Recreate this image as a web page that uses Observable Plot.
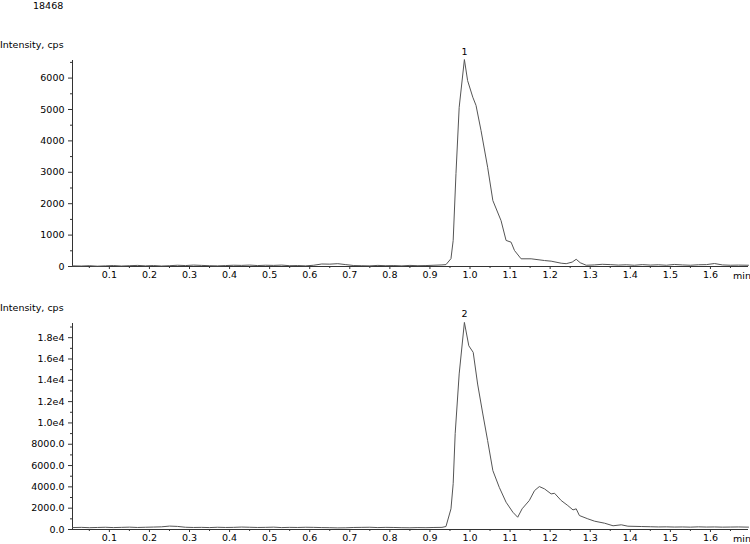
<!DOCTYPE html>
<html>
<head>
<meta charset="utf-8">
<script src="https://cdn.jsdelivr.net/npm/d3@7"></script>
<script src="https://cdn.jsdelivr.net/npm/@observablehq/plot@0.6"></script>
<style>
  html, body { margin: 0; padding: 0; background: #fff; }
  #wrap { position: relative; width: 750px; height: 544px; overflow: hidden; font-family: "DejaVu Sans", sans-serif; font-size: 9.5px; color: #000; }
  .txt { position: absolute; white-space: nowrap; line-height: 12px; }
  .panel { position: absolute; left: 0; }
</style>
</head>
<body>
<div id="wrap">
  <div class="txt" id="maxText" style="left:33px; top:0px;"></div>
  <div class="txt" id="ylab1" style="left:0px; top:39px;"></div>
  <div class="txt" id="ylab2" style="left:0px; top:302px;"></div>
  <div class="txt" id="unit1" style="left:733px; top:270px;"></div>
  <div class="txt" id="unit2" style="left:733px; top:533px;"></div>
  <div class="panel" id="p1" style="top:0px;"></div>
  <div class="panel" id="p2" style="top:263px;"></div>
</div>
<script>
// ---- Data ----
const headerValue = "18468";
const yAxisTitle = "Intensity, cps";
const xUnit = "min";
const peakNames = ["1", "2"];

// Trace 1 (top panel): retention time (min) and intensity (cps)
const time1 = [0.008, 0.03, 0.05, 0.07, 0.09, 0.11, 0.13, 0.15, 0.17, 0.19, 0.21, 0.23, 0.25, 0.27, 0.29, 0.31, 0.33, 0.35, 0.37, 0.39, 0.41, 0.43, 0.45, 0.47, 0.49, 0.51, 0.53, 0.55, 0.57, 0.59, 0.61, 0.63, 0.65, 0.67, 0.69, 0.71, 0.73, 0.75, 0.77, 0.79, 0.81, 0.83, 0.85, 0.87, 0.89, 0.91, 0.93,
  0.94, 0.9525, 0.958, 0.965, 0.973, 0.986, 0.994, 1.007, 1.015, 1.0275, 1.044, 1.057, 1.0775, 1.09, 1.1025, 1.111, 1.1275, 1.1525, 1.186, 1.2025, 1.2275, 1.24, 1.255, 1.265, 1.275, 1.29,
  1.31, 1.33, 1.35, 1.37, 1.39, 1.41, 1.43, 1.45, 1.47, 1.49, 1.51, 1.53, 1.55, 1.57, 1.59, 1.61, 1.63, 1.65, 1.67, 1.695];
const intensity1 = [20, 15, 25, 10, 20, 30, 15, 25, 35, 20, 30, 15, 25, 40, 30, 45, 35, 25, 20, 30, 40, 35, 45, 30, 40, 35, 45, 25, 30, 20, 40, 80, 75, 90, 60, 30, 25, 20, 35, 25, 30, 20, 35, 25, 30, 40, 50,
  60, 250, 830, 2960, 5070, 6590, 5920, 5390, 5130, 4330, 3160, 2100, 1460, 830, 775, 510, 245, 245, 190, 170, 105, 90, 140, 230, 120, 40,
  50, 70, 60, 45, 55, 40, 60, 45, 55, 40, 65, 50, 40, 55, 60, 95, 50, 40, 45, 40];

// Trace 2 (bottom panel)
const time2 = [0.008, 0.03, 0.05, 0.07, 0.09, 0.11, 0.13, 0.15, 0.17, 0.19, 0.21, 0.23, 0.25, 0.27, 0.29, 0.31, 0.33, 0.35, 0.37, 0.39, 0.41, 0.43, 0.45, 0.47, 0.49, 0.51, 0.53, 0.55, 0.57, 0.59, 0.61, 0.63, 0.65, 0.67, 0.69, 0.71, 0.73, 0.75, 0.77, 0.79, 0.81, 0.83, 0.85, 0.87, 0.89, 0.91, 0.93,
  0.94, 0.9525, 0.958, 0.963, 0.973, 0.986, 0.997, 1.008, 1.019, 1.032, 1.044, 1.057, 1.073, 1.09, 1.107, 1.119, 1.13, 1.148, 1.161, 1.173, 1.186, 1.2025, 1.211, 1.2275, 1.244, 1.257, 1.265, 1.273, 1.294, 1.311, 1.336, 1.357, 1.3775, 1.394, 1.4275,
  1.45, 1.47, 1.49, 1.51, 1.53, 1.55, 1.57, 1.59, 1.61, 1.63, 1.65, 1.67, 1.695];
const intensity2 = [180, 200, 170, 190, 210, 180, 200, 220, 190, 210, 230, 250, 320, 290, 210, 190, 200, 180, 210, 190, 200, 230, 210, 190, 200, 220, 180, 200, 190, 210, 200, 180, 170, 150, 160, 190, 200, 210, 180, 200, 190, 170, 160, 180, 170, 190, 200,
  280, 1940, 4300, 9000, 14600, 19430, 17240, 16620, 13650, 10840, 8340, 5530, 3960, 2560, 1620, 1150, 1940, 2720, 3650, 4030, 3810, 3340, 3400, 2720, 2250, 1840, 1940, 1310, 1000, 780, 590, 350, 440, 310, 280,
  260, 240, 250, 230, 240, 220, 250, 230, 240, 220, 230, 240, 220];

// Axis ticks
const xTicks = [0.1, 0.2, 0.3, 0.4, 0.5, 0.6, 0.7, 0.8, 0.9, 1.0, 1.1, 1.2, 1.3, 1.4, 1.5, 1.6];
const xMinorTicks = [0.05, 0.15, 0.25, 0.35, 0.45, 0.55, 0.65, 0.75, 0.85, 0.95, 1.05, 1.15, 1.25, 1.35, 1.45, 1.55, 1.65];
const yTicks1 = [0, 1000, 2000, 3000, 4000, 5000, 6000];
const yTickLabels1 = ["0", "1000", "2000", "3000", "4000", "5000", "6000"];
const yMinorTicks1 = [500, 1500, 2500, 3500, 4500, 5500, 6500];
const yTicks2 = [0, 2000, 4000, 6000, 8000, 10000, 12000, 14000, 16000, 18000];
const yTickLabels2 = ["0.0", "2000.0", "4000.0", "6000.0", "8000.0", "1.0e4", "1.2e4", "1.4e4", "1.6e4", "1.8e4"];
const yMinorTicks2 = [1000, 3000, 5000, 7000, 9000, 11000, 13000, 15000, 17000, 19000];

const xDomain = [0.008, 1.695];
const yDomain1 = [0, 6560];
const yDomain2 = [0, 19330];

// ---- Drawing ----
document.getElementById("maxText").textContent = headerValue;
document.getElementById("ylab1").textContent = yAxisTitle;
document.getElementById("ylab2").textContent = yAxisTitle;
document.getElementById("unit1").textContent = xUnit;
document.getElementById("unit2").textContent = xUnit;

function panel(time, intensity, yDomain, yTicks, yLabels, yMinor, peakName) {
  const data = time.map((t, i) => ({t, v: intensity[i]}));
  const peak = d3.greatest(data, d => d.v);
  const fmt = v => yLabels[yTicks.indexOf(v)];
  return Plot.plot({
    width: 750,
    height: 290,
    marginTop: 60,
    marginBottom: 24,
    marginLeft: 72,
    marginRight: 2,
    style: {fontFamily: "DejaVu Sans, sans-serif", fontSize: "9.5px", color: "#000", background: "transparent", overflow: "visible"},
    x: {domain: xDomain},
    y: {domain: yDomain},
    marks: [
      Plot.axisY({ticks: yMinor.filter(v => v <= yDomain[1]), tickSize: 2, text: null, label: null, stroke: "#333"}),
      Plot.axisY({ticks: yTicks, tickSize: 4, tickPadding: 4, tickFormat: fmt, label: null, stroke: "#333", fill: "#000"}),
      Plot.axisX({ticks: xMinorTicks, tickSize: 2, text: null, label: null, stroke: "#333"}),
      Plot.axisX({ticks: xTicks, tickSize: 3, tickPadding: 2, tickFormat: d => d.toFixed(1), label: null, stroke: "#333", fill: "#000"}),
      Plot.ruleX([xDomain[0]], {stroke: "#333"}),
      Plot.ruleY([0], {stroke: "#333"}),
      Plot.line(data, {x: "t", y: "v", stroke: "#555", strokeWidth: 1}),
      Plot.text([peak], {x: "t", y: "v", text: () => peakName, lineAnchor: "bottom", dy: -5, fill: "#000"})
    ]
  });
}

document.getElementById("p1").appendChild(panel(time1, intensity1, yDomain1, yTicks1, yTickLabels1, yMinorTicks1, peakNames[0]));
document.getElementById("p2").appendChild(panel(time2, intensity2, yDomain2, yTicks2, yTickLabels2, yMinorTicks2, peakNames[1]));
</script>
</body>
</html>
